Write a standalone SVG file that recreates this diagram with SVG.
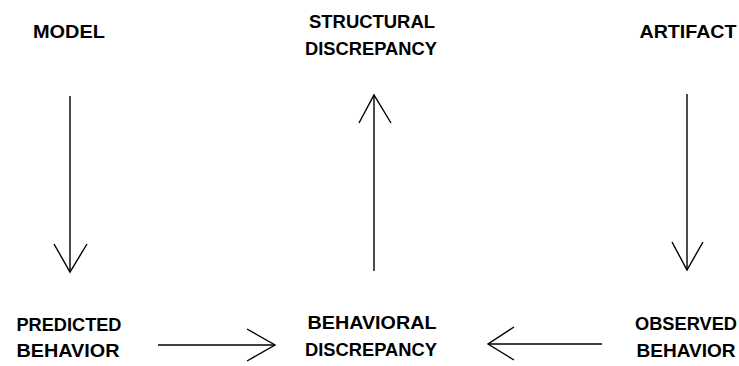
<svg xmlns="http://www.w3.org/2000/svg" width="739" height="366" viewBox="0 0 739 366">
<style>
text{font-family:"Liberation Sans",Arial,sans-serif;font-weight:bold;font-size:18px;fill:#000;text-anchor:middle}
.ln{stroke:#000;stroke-width:1.4;fill:none}
.hd{stroke:#000;stroke-width:1.4;fill:none;stroke-linejoin:miter}
</style>
<rect width="739" height="366" fill="#fff"/>
<g id="model"><text x="69" y="38" textLength="72" lengthAdjust="spacingAndGlyphs">MODEL</text></g>
<g id="structural-discrepancy"><text x="372" y="28" textLength="126" lengthAdjust="spacingAndGlyphs">STRUCTURAL</text><text x="371" y="55" textLength="132" lengthAdjust="spacingAndGlyphs">DISCREPANCY</text></g>
<g id="artifact"><text x="688" y="38" textLength="97" lengthAdjust="spacingAndGlyphs">ARTIFACT</text></g>
<g id="predicted-behavior"><text x="69" y="331" textLength="105" lengthAdjust="spacingAndGlyphs">PREDICTED</text><text x="68" y="357" textLength="103" lengthAdjust="spacingAndGlyphs">BEHAVIOR</text></g>
<g id="behavioral-discrepancy"><text x="372" y="329" textLength="129" lengthAdjust="spacingAndGlyphs">BEHAVIORAL</text><text x="371" y="356" textLength="132" lengthAdjust="spacingAndGlyphs">DISCREPANCY</text></g>
<g id="observed-behavior"><text x="686" y="330" textLength="102" lengthAdjust="spacingAndGlyphs">OBSERVED</text><text x="686" y="357" textLength="99" lengthAdjust="spacingAndGlyphs">BEHAVIOR</text></g>
<g id="connectors">
<line class="ln" x1="70" y1="96" x2="70" y2="272"/>
<polyline class="hd" points="54,244 70,272 87,244"/>
<line class="ln" x1="374" y1="95" x2="374" y2="271"/>
<polyline class="hd" points="359,123 374,95 391,123"/>
<line class="ln" x1="687" y1="94" x2="687" y2="270"/>
<polyline class="hd" points="672,242 687,270 703,242"/>
<line class="ln" x1="158" y1="345" x2="275" y2="345"/>
<polyline class="hd" points="247,329 275,345 247,361"/>
<line class="ln" x1="602" y1="344" x2="488" y2="344"/>
<polyline class="hd" points="514,327 488,344 514,360"/>
</g>
</svg>
